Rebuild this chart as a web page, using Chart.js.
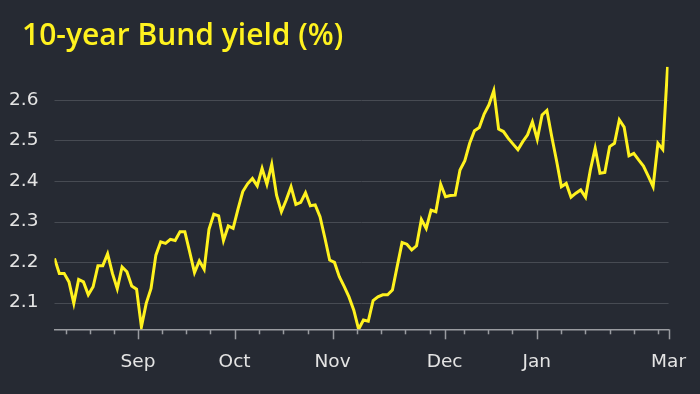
<!DOCTYPE html>
<html lang="en">
<head>
<meta charset="UTF-8">
<title>10-year Bund yield</title>
<script src="https://cdn.jsdelivr.net/npm/chart.js"></script>
<style>
    body {
        margin: 0;
        background-color: #262a33;
    }
    #wrap {
        position: relative;
        width: 700px;
        height: 394px;
    }
    #title {
        position: absolute;
        left: 22px;
        top: 19px;
        margin: 0;
        font-family: "Open Sans", sans-serif;
        font-weight: 600;
        font-size: 30px;
        line-height: 30px;
        color: #fff21f;
    }
    canvas {
        display: block;
    }
</style>
</head>
<body>
<div id="wrap">
    <h1 id="title">10-year Bund yield (%)</h1>
    <canvas id="bundChart" width="700" height="394"></canvas>
</div>

<script>
    // daily closes, trading days from late Aug to early Mar
    const yields = [
        2.209, 2.172, 2.172, 2.151, 2.098, 2.157, 2.151, 2.119, 2.139, 2.191,
        2.191, 2.220, 2.172, 2.134, 2.188, 2.176, 2.141, 2.133, 2.040, 2.098,
        2.135, 2.217, 2.250, 2.246, 2.256, 2.253, 2.275, 2.275, 2.225, 2.174,
        2.203, 2.182, 2.281, 2.318, 2.314, 2.253, 2.289, 2.283, 2.330, 2.374,
        2.393, 2.406, 2.388, 2.431, 2.392, 2.441, 2.365, 2.324, 2.353, 2.386,
        2.342, 2.347, 2.371, 2.339, 2.341, 2.312, 2.260, 2.205, 2.199, 2.164,
        2.140, 2.114, 2.081, 2.034, 2.057, 2.054, 2.105, 2.114, 2.119, 2.119,
        2.131, 2.190, 2.248, 2.244, 2.230, 2.240, 2.305, 2.283, 2.328, 2.324,
        2.392, 2.361, 2.364, 2.365, 2.427, 2.450, 2.493, 2.524, 2.532, 2.565,
        2.588, 2.623, 2.528, 2.522, 2.505, 2.491, 2.477, 2.497, 2.514, 2.546,
        2.503, 2.563, 2.574, 2.510, 2.450, 2.386, 2.394, 2.360, 2.370, 2.378,
        2.360, 2.427, 2.481, 2.419, 2.421, 2.485, 2.493, 2.551, 2.533, 2.462,
        2.468, 2.452, 2.437, 2.412, 2.386, 2.493, 2.478, 2.682
    ];
    const monthLabels = ['Sep', 'Oct', 'Nov', 'Dec', 'Jan', 'Mar'];
    const monthDays = [17.3, 37.3, 57.6, 80.8, 99.9, 127.2];
    const weekDays = [2.3, 7.3, 12.3, 22.3, 27.3, 32.3, 42.3, 47.4, 52.5,
        62.7, 67.7, 72.7, 77.8, 84.8, 89.8, 94.8, 104.9, 109.9, 115, 120, 125];
    const yTicks = [2.1, 2.2, 2.3, 2.4, 2.5, 2.6];

    const axisGrey = '#9a9ca1';
    const gridGrey = '#474b53';
    const labelFont = { family: 'DejaVu Sans', size: 18.5 };

    // horizontal grid, kept inside the plot area
    const gridLines = {
        id: 'gridLines',
        beforeDatasetsDraw(chart) {
            const ctx = chart.ctx;
            const y = chart.scales.y;
            const area = chart.chartArea;
            ctx.save();
            ctx.strokeStyle = gridGrey;
            ctx.lineWidth = 1;
            yTicks.forEach(t => {
                const py = Math.round(y.getPixelForValue(t)) + 0.5;
                ctx.beginPath();
                ctx.moveTo(area.left, py);
                ctx.lineTo(area.right, py);
                ctx.stroke();
            });
            ctx.restore();
        }
    };

    // short weekly ticks and longer month ticks under the axis
    const tickMarks = {
        id: 'tickMarks',
        afterDraw(chart) {
            const ctx = chart.ctx;
            const x = chart.scales.x;
            const bottom = chart.chartArea.bottom;
            ctx.save();
            ctx.strokeStyle = axisGrey;
            ctx.lineWidth = 1.5;
            weekDays.forEach(d => {
                const px = Math.round(x.getPixelForValue(d)) + 0.5;
                ctx.beginPath();
                ctx.moveTo(px, bottom);
                ctx.lineTo(px, bottom + 5);
                ctx.stroke();
            });
            monthDays.forEach(d => {
                const px = Math.round(x.getPixelForValue(d)) + 0.5;
                ctx.beginPath();
                ctx.moveTo(px, bottom);
                ctx.lineTo(px, bottom + 10);
                ctx.stroke();
            });
            ctx.restore();
        }
    };

    new Chart(document.getElementById('bundChart'), {
        type: 'line',
        data: {
            datasets: [{
                data: yields.map((v, i) => ({ x: i, y: v })),
                borderColor: '#fff21f',
                borderWidth: 3,
                pointRadius: 0,
                tension: 0,
                fill: false
            }]
        },
        options: {
            responsive: false,
            animation: false,
            layout: {
                padding: { left: 0, right: 27.1, top: 66.7, bottom: 0 }
            },
            plugins: {
                legend: { display: false },
                tooltip: { enabled: false }
            },
            scales: {
                x: {
                    type: 'linear',
                    min: 0,
                    max: 127.2,
                    afterBuildTicks: scale => {
                        scale.ticks = monthDays.map(v => ({ value: v }));
                    },
                    afterFit: scale => { scale.height = 64.7; },
                    grid: { display: false },
                    border: { display: true, color: axisGrey, width: 1.5 },
                    ticks: {
                        autoSkip: false,
                        maxRotation: 0,
                        padding: 14,
                        color: '#e4e4e4',
                        font: labelFont,
                        callback: value => monthLabels[monthDays.indexOf(value)]
                    }
                },
                y: {
                    min: 2.034,
                    max: 2.682,
                    afterBuildTicks: scale => {
                        scale.ticks = yTicks.map(v => ({ value: v }));
                    },
                    afterFit: scale => { scale.width = 54.5; },
                    grid: { display: false },
                    border: { display: false },
                    ticks: {
                        padding: 8,
                        color: '#e4e4e4',
                        font: labelFont,
                        callback: value => value.toFixed(1)
                    }
                }
            }
        },
        plugins: [gridLines, tickMarks]
    });
</script>
</body>
</html>
